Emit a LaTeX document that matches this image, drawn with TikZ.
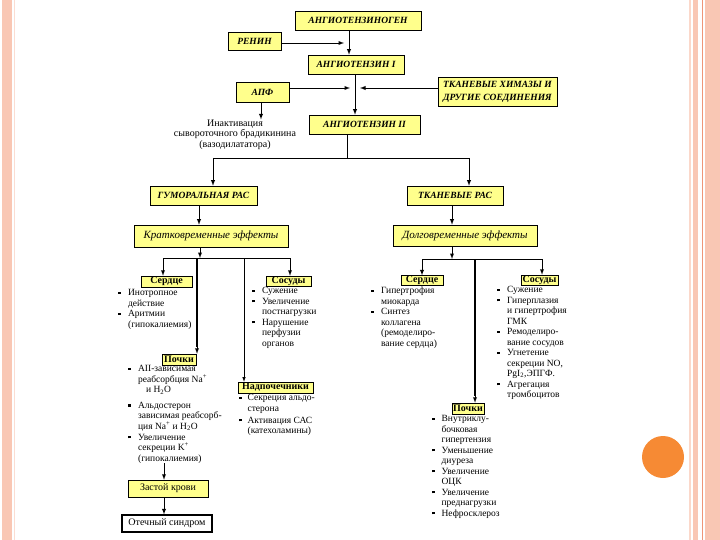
\documentclass[tikz,border=0pt]{standalone}
\usepackage{fontspec}
\setmainfont{Liberation Serif}
\usepackage{tikz}
\usetikzlibrary{arrows,shadows,calc}

\definecolor{boxyellow}{RGB}{255,255,140}
\definecolor{framepink}{RGB}{249,199,180}
\definecolor{frameline}{RGB}{238,150,120}
\definecolor{dotorange}{RGB}{246,138,52}

\newcommand\sqb{\rule[1.6pt]{2.4pt}{2.4pt}}

\begin{document}
\begin{tikzpicture}[x=1pt,y=-1pt,
  hbox/.style={draw=black, fill=boxyellow, line width=0.5pt, inner sep=1pt,
    font=\fontsize{9.5}{13}\selectfont\bfseries\itshape,
    drop shadow={shadow xshift=1.2pt,shadow yshift=-1.2pt,fill=black,opacity=1}},
  ebox/.style={hbox, font=\fontsize{11}{13}\selectfont\itshape},
  sbox/.style={draw=black, fill=boxyellow, line width=0.5pt, inner sep=0.5pt,
    font=\fontsize{10}{10}\selectfont\bfseries,
    drop shadow={shadow xshift=1pt,shadow yshift=-1pt,fill=black,opacity=1}},
  blist/.style={anchor=north west, inner sep=0pt, align=left,
    font=\fontsize{9.5}{10.5}\selectfont},
  flow/.style={-latex, line width=0.9pt},
  trunk/.style={line width=1.8pt}
]
\useasboundingbox (0,0) rectangle (720,540);

% slide frame
\fill[framepink] (2,0) rectangle (12,540);
\draw[framepink!60, line width=1pt] (14.5,0) -- (14.5,540);
\draw[framepink!70, line width=1.5pt] (690,0) -- (690,540);
\fill[framepink] (693,0) rectangle (698,540);
\draw[frameline, line width=0.8pt] (702,0) -- (702,540);
\fill[framepink] (705,0) rectangle (720,540);
\fill[dotorange] (663,457) circle (21);

% upper cascade
\node[hbox, minimum width=126pt, minimum height=19pt] (angen) at (358,20.5) {АНГИОТЕНЗИНОГЕН};
\node[hbox, minimum width=53pt, minimum height=18pt] (renin) at (254.5,41) {РЕНИН};
\node[hbox, minimum width=96pt, minimum height=19pt] (ang1) at (356,64.5) {АНГИОТЕНЗИН I};
\node[hbox, minimum width=53pt, minimum height=20pt] (apf) at (262.5,92) {АПФ};
\node[hbox, minimum width=119pt, minimum height=29pt, align=center] (chym) at (497.5,91.5) {ТКАНЕВЫЕ ХИМАЗЫ И\\ДРУГИЕ СОЕДИНЕНИЯ};
\node[hbox, minimum width=111pt, minimum height=19pt] (ang2) at (364.5,124.5) {АНГИОТЕНЗИН II};
\node[align=center, inner sep=0pt, font=\fontsize{10}{10.5}\selectfont] (inact) at (235,134.5) {Инактивация\\сывороточного брадикинина\\(вазодилататора)};

\draw[flow] (angen.south -| 349,0) -- (ang1.north -| 349,0);
\draw[flow] (renin.east |- 0,43) -- (344,43);
\draw[flow] (ang1.south -| 355,0) -- (ang2.north -| 355,0);
\draw[flow] (apf.east |- 0,88) -- (350,88);
\draw[flow] (chym.west |- 0,88) -- (360,88);
\draw[flow] (apf.south -| 261,0) -- (inact.north -| 261,0);

% two systems
\node[hbox, minimum width=107pt, minimum height=19pt] (humras) at (203.5,195.5) {ГУМОРАЛЬНАЯ РАС};
\node[hbox, minimum width=96pt, minimum height=19pt] (tisras) at (455,195.5) {ТКАНЕВЫЕ РАС};
\node[ebox, minimum width=154pt, minimum height=22pt] (short) at (211,236) {Кратковременные эффекты};
\node[ebox, minimum width=144pt, minimum height=21pt] (long) at (465,235.5) {Долговременные эффекты};

\coordinate (split) at (347,158);
\draw[line width=0.9pt] (ang2.south -| split) -- (split);
\draw[line width=0.9pt] (213,158) -- (469,158);
\draw[flow] (213,158) -- (humras.north -| 213,0);
\draw[flow] (469,158) -- (tisras.north -| 469,0);
\draw[flow] (humras.south -| 199,0) -- (short.north -| 199,0);
\draw[flow] (tisras.south -| 452,0) -- (long.north -| 452,0);

% short-term effects
\node[sbox, minimum width=51pt, minimum height=11pt] (heartL) at (166.5,281.5) {Сердце};
\node[sbox, minimum width=45pt, minimum height=10pt] (vesL) at (288.5,281) {Сосуды};
\node[sbox, minimum width=34pt, minimum height=11pt] (kidL) at (179,359.5) {Почки};
\node[sbox, minimum width=75pt, minimum height=11pt] (adren) at (275.5,387.5) {Надпочечники};
\node[draw=black, fill=boxyellow, line width=0.5pt, minimum width=80pt, minimum height=17pt,
  font=\fontsize{10}{11}\selectfont,
  drop shadow={shadow xshift=1pt,shadow yshift=-1pt,fill=black,opacity=1}] (stasis) at (168,488.5) {Застой крови};
\node[draw=black, line width=1.2pt, minimum width=90pt, minimum height=17pt,
  font=\fontsize{10}{11}\selectfont] (edema) at (167,523.5) {Отечный синдром};

\coordinate (jl) at (200,258);
\draw[flow] (short.south -| jl) -- (jl);
\draw[line width=0.9pt] (163,258) -- (290,258);
\draw[flow] (163,258) -- (heartL.north -| 163,0);
\draw[flow] (290,258) -- (vesL.north -| 290,0);
\draw[trunk] (197,258) -- (197,347);
\draw[flow] (197,345) -- (kidL.north -| 197,0);
\draw[line width=0.6pt, -latex] (244,258) -- (adren.north -| 244,0);

\node[blist] (lhL) at (118,288) {\begin{tabular}{@{}l@{\hspace{7.5pt}}l@{}}
\sqb & Инотропное\\ & действие\\ \sqb & Аритмии\\ & (гипокалиемия)\end{tabular}};
\node[blist] (lvL) at (252,286) {\begin{tabular}{@{}l@{\hspace{7.5pt}}l@{}}
\sqb & Сужение\\ \sqb & Увеличение\\ & постнагрузки\\ \sqb & Нарушение\\ & перфузии\\ & органов\end{tabular}};
\node[blist] (lkL) at (128,364) {\begin{tabular}{@{}l@{\hspace{7.5pt}}l@{}}
\sqb & АII-зависимая\\ & реабсорбция Na\textsuperscript{+}\\ & \hspace{8pt}и H\textsubscript{2}O\\[5pt]
\sqb & Альдостерон\\ & зависимая реабсорб-\\ & ция Na\textsuperscript{+} и H\textsubscript{2}O\\
\sqb & Увеличение\\ & секреции K\textsuperscript{+}\\ & (гипокалиемия)\end{tabular}};
\node[blist] (laL) at (239,393) {\begin{tabular}{@{}l@{\hspace{6pt}}l@{}}
\sqb & Секреция альдо-\\ & стерона\\[1.5pt] \sqb & Активация САС\\ & (катехоламины)\end{tabular}};

\draw[flow] (164,463) -- (stasis.north -| 164,0);
\draw[flow] (stasis.south -| 164,0) -- (edema.north -| 164,0);

% long-term effects
\node[sbox, minimum width=42pt, minimum height=9pt] (heartR) at (422,280.5) {Сердце};
\node[sbox, minimum width=37pt, minimum height=10pt] (vesR) at (539.5,280) {Сосуды};
\node[sbox, minimum width=32pt, minimum height=11pt] (kidR) at (468,408.5) {Почки};

\coordinate (jr) at (452,259);
\draw[flow] (long.south -| jr) -- (jr);
\draw[line width=0.9pt] (422,259) -- (542,259);
\draw[flow] (422,259) -- (heartR.north -| 422,0);
\draw[flow] (542,259) -- (vesR.north -| 542,0);
\draw[trunk] (475,259) -- (475,396);
\draw[flow] (475,394) -- (kidR.north -| 475,0);

\node[blist] (rhL) at (371,286) {\begin{tabular}{@{}l@{\hspace{7.5pt}}l@{}}
\sqb & Гипертрофия\\ & миокарда\\ \sqb & Синтез\\ & коллагена\\ & (ремоделиро-\\ & вание сердца)\end{tabular}};
\node[blist] (rvL) at (497,285) {\begin{tabular}{@{}l@{\hspace{7.5pt}}l@{}}
\sqb & Сужение\\ \sqb & Гиперплазия\\ & и гипертрофия\\ & ГМК\\ \sqb & Ремоделиро-\\ & вание сосудов\\
\sqb & Угнетение\\ & секреции NO,\\ & PgI\textsubscript{2},ЭПГФ.\\ \sqb & Агрегация\\ & тромбоцитов\end{tabular}};
\node[blist] (rkL) at (432,414) {\begin{tabular}{@{}l@{\hspace{7pt}}l@{}}
\sqb & Внутриклу-\\ & бочковая\\ & гипертензия\\ \sqb & Уменьшение\\ & диуреза\\
\sqb & Увеличение\\ & ОЦК\\ \sqb & Увеличение\\ & преднагрузки\\ \sqb & Нефросклероз\end{tabular}};
\end{tikzpicture}
\end{document}
